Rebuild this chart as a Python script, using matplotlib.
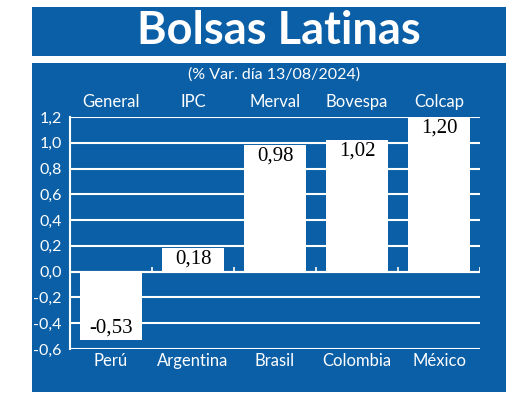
import matplotlib.pyplot as plt
from matplotlib.patches import Rectangle
from matplotlib.ticker import FuncFormatter

paises = ['Perú', 'Argentina', 'Brasil', 'Colombia', 'México']
indices = ['General', 'IPC', 'Merval', 'Bovespa', 'Colcap']
variacion = [-0.53, 0.18, 0.98, 1.02, 1.20]
titulo = 'Bolsas Latinas'
subtitulo = '(% Var. día 13/08/2024)'

azul = '#0b5fa6'
W, H = 520, 413

fig = plt.figure(figsize=(5.2, 4.13), dpi=100)
fig.patch.set_facecolor('white')

# banner and panel boxes (pixel coords -> figure fraction)
def caja(x0, y0, x1, y1):
    fig.patches.append(Rectangle((x0 / W, 1 - y1 / H), (x1 - x0) / W, (y1 - y0) / H,
                                 transform=fig.transFigure, facecolor=azul,
                                 edgecolor='none', zorder=-10))

caja(32, 7, 506, 56)
caja(32, 63, 506, 392)

fig.text(279 / W, 1 - 31 / H, titulo, color='white', fontsize=32.5, fontweight='bold',
         family='Lato', ha='center', va='center')
fig.text(274 / W, 1 - 75 / H, subtitulo, color='white', fontsize=11.5,
         family='Lato', ha='center', va='center')

ax = fig.add_axes([70 / W, 1 - 349 / H, 410 / W, (349 - 117) / H])
ax.set_facecolor('none')

x = range(len(paises))
ax.bar(x, variacion, width=0.75, color='white', zorder=3)
ax.set_xlim(-0.5, len(paises) - 0.5)
ax.set_ylim(-0.6, 1.2)
ax.set_yticks([i / 10 for i in range(-6, 13, 2)])
ax.yaxis.set_major_formatter(FuncFormatter(lambda v, p: f'{v:.1f}'.replace('.', ',')))
ax.grid(axis='y', color='white', linewidth=1.5, zorder=1)
ax.axhline(0, color='white', linewidth=1.5, zorder=4)
ax.vlines([i + 0.5 for i in x], 0, 0.04, colors='white', linewidth=1.2, zorder=2)

for s in ['top', 'right', 'bottom']:
    ax.spines[s].set_visible(False)
ax.spines['left'].set_color('white')
ax.spines['left'].set_linewidth(1.5)

ax.set_xticks(list(x), paises)
ax.tick_params(axis='x', length=0, pad=3, colors='white', labelsize=12)
ax.tick_params(axis='y', length=0, pad=6, colors='white', labelsize=11.5)
for lab in ax.get_xticklabels() + ax.get_yticklabels():
    lab.set_family('Lato')

top = ax.secondary_xaxis('top')
top.set_xticks(list(x), indices)
top.tick_params(length=0, pad=5, colors='white', labelsize=12)
top.spines['top'].set_visible(False)
for lab in top.get_xticklabels():
    lab.set_family('Lato')

for i, v in zip(x, variacion):
    txt = f'{v:.2f}'.replace('.', ',')
    if v >= 0:
        ax.annotate(txt, (i, v), xytext=(0, -1), textcoords='offset points',
                    ha='center', va='top', fontsize=15, family='Liberation Serif', zorder=5)
    else:
        ax.annotate(txt, (i, v), xytext=(0, 2), textcoords='offset points',
                    ha='center', va='bottom', fontsize=15, family='Liberation Serif', zorder=5)

fig.savefig('out.png', dpi=100)
